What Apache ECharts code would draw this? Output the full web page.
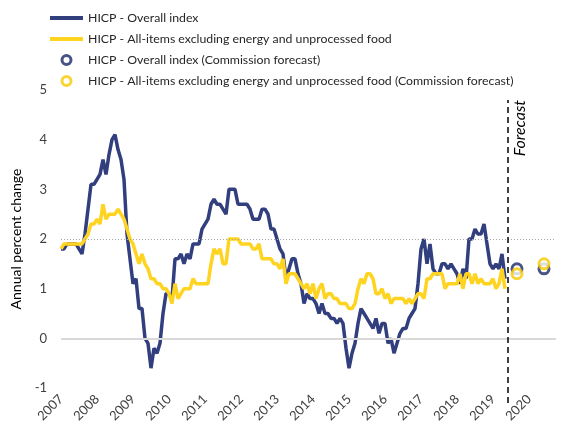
<!DOCTYPE html>
<html>
<head>
<meta charset="utf-8">
<title>HICP</title>
<script src="https://cdn.jsdelivr.net/npm/echarts@6/dist/echarts.min.js"></script>
<style>
  html, body { margin: 0; padding: 0; background: #fff; }
  #chart { width: 561px; height: 428px; }
</style>
</head>
<body>
<div id="chart"></div>
<script>
// monthly categories, Jan 2007 .. Oct 2020
var months = [];
for (var y = 2007; y <= 2020; y++) {
    for (var mo = 1; mo <= 12; mo++) {
        if (y === 2020 && mo > 10) break;
        months.push(y + '-' + (mo < 10 ? '0' + mo : mo));
    }
}

// HICP - Overall index, Jan 2007 .. May 2019
var hicpOverall = [
    1.8, 1.8, 1.9, 1.9, 1.9, 1.9, 1.8, 1.7, 2.1, 2.6, 3.1, 3.1,
    3.2, 3.3, 3.6, 3.3, 3.7, 4.0, 4.1, 3.8, 3.6, 3.2, 2.1, 1.6,
    1.1, 1.2, 0.6, 0.6, 0.0, -0.1, -0.6, -0.2, -0.3, -0.1, 0.5, 0.9,
    0.9, 0.8, 1.6, 1.6, 1.7, 1.5, 1.7, 1.6, 1.9, 1.9, 1.9, 2.2,
    2.3, 2.4, 2.7, 2.8, 2.7, 2.7, 2.6, 2.5, 3.0, 3.0, 3.0, 2.7,
    2.7, 2.7, 2.7, 2.6, 2.4, 2.4, 2.4, 2.6, 2.6, 2.5, 2.2, 2.2,
    2.0, 1.8, 1.7, 1.2, 1.4, 1.6, 1.6, 1.3, 1.1, 0.7, 0.9, 0.8,
    0.8, 0.7, 0.5, 0.7, 0.5, 0.5, 0.4, 0.4, 0.3, 0.4, 0.3, -0.2,
    -0.6, -0.3, -0.1, 0.3, 0.6, 0.5, 0.4, 0.3, 0.2, 0.4, 0.1, 0.3,
    0.3, -0.1, 0.0, -0.3, -0.1, 0.1, 0.2, 0.2, 0.4, 0.5, 0.6, 1.1,
    1.8, 2.0, 1.5, 1.9, 1.4, 1.3, 1.3, 1.5, 1.5, 1.4, 1.5, 1.4,
    1.3, 1.1, 1.4, 1.2, 2.0, 2.0, 2.2, 2.1, 2.1, 2.3, 1.9, 1.5,
    1.4, 1.5, 1.4, 1.7, 1.2
];

// HICP - All-items excluding energy and unprocessed food
var hicpCore = [
    1.8, 1.9, 1.9, 1.9, 1.9, 1.9, 1.9, 1.9, 2.0, 2.1, 2.3, 2.3,
    2.4, 2.3, 2.7, 2.4, 2.5, 2.5, 2.5, 2.6, 2.5, 2.4, 2.2, 2.0,
    1.9, 1.7, 1.5, 1.7, 1.5, 1.4, 1.2, 1.2, 1.1, 1.1, 1.0, 1.0,
    0.9, 0.7, 1.1, 0.8, 0.9, 1.0, 1.0, 1.0, 1.2, 1.1, 1.1, 1.1,
    1.1, 1.1, 1.5, 1.8, 1.7, 1.8, 1.5, 1.5, 2.0, 2.0, 2.0, 2.0,
    1.9, 1.9, 1.9, 1.9, 1.8, 1.8, 1.9, 1.6, 1.6, 1.6, 1.6, 1.5,
    1.5, 1.4, 1.6, 1.1, 1.3, 1.3, 1.3, 1.2, 1.1, 1.0, 1.1, 0.9,
    1.1, 0.8, 1.0, 1.1, 0.8, 0.9, 0.9, 0.8, 0.8, 0.7, 0.7, 0.7,
    0.6, 0.6, 0.7, 1.0, 1.2, 1.1, 1.3, 1.3, 1.2, 0.9, 0.9, 1.0,
    0.8, 0.9, 0.7, 0.8, 0.8, 0.8, 0.8, 0.7, 0.8, 0.7, 0.8, 0.9,
    0.9, 0.8, 1.2, 1.2, 1.3, 1.3, 1.3, 1.3, 1.0, 1.1, 1.1, 1.1,
    1.1, 1.3, 1.0, 1.3, 1.3, 1.1, 1.3, 1.1, 1.2, 1.1, 1.1, 1.1,
    1.2, 1.0, 1.1, 1.4, 1.0
];

// Commission forecast (2019, 2020)
var forecastAt = ['2019-09', '2020-06'];
var forecastOverall = [1.4, 1.4];
var forecastCore = [1.3, 1.5];
var forecastStart = '2019-06';

var navy = '#323f7e';
var navyDark = '#1c2868';
var yellow = '#ffd420';
var yellowRing = '#f7c900';
var font = 'Lato';

var names = [
    'HICP - Overall index',
    'HICP - All-items excluding energy and unprocessed food',
    'HICP - Overall index (Commission forecast)',
    'HICP - All-items excluding energy and unprocessed food (Commission forecast)'
];

var chart = echarts.init(document.getElementById('chart'));

var option = {
    backgroundColor: '#fff',
    textStyle: { fontFamily: font },
    legend: {
        orient: 'vertical',
        left: 43,
        top: 7,
        itemWidth: 33,
        itemHeight: 9,
        itemGap: 9,
        textStyle: { fontFamily: font, fontSize: 12.3, color: '#262626' },
        data: [
            { name: names[0], itemStyle: { opacity: 0 }, lineStyle: { width: 4 } },
            { name: names[1], itemStyle: { opacity: 0 }, lineStyle: { width: 4 } },
            { name: names[2], itemStyle: { color: '#fff', borderColor: navyDark, borderWidth: 3 } },
            { name: names[3], itemStyle: { color: '#fff', borderColor: yellowRing, borderWidth: 3 } }
        ]
    },
    grid: [
        { left: 61, right: 5, top: 90, bottom: 40 },
        { left: 61, right: 5, top: 100, bottom: 25 }
    ],
    xAxis: [
        {
            type: 'category',
            data: months,
            boundaryGap: false,
            axisLine: { show: false },
            axisTick: { show: false },
            axisLabel: {
                rotate: 45,
                margin: 9,
                fontSize: 13,
                color: '#404040',
                interval: function (idx) { return idx % 12 === 0; },
                formatter: function (v) { return v.slice(0, 4); }
            },
            splitLine: { show: false }
        },
        {
            gridIndex: 1,
            type: 'category',
            data: months,
            boundaryGap: false,
            show: false
        }
    ],
    yAxis: [
        {
            type: 'value',
            min: -1,
            max: 5,
            interval: 1,
            name: 'Annual percent change',
            nameLocation: 'middle',
            nameGap: 33,
            nameTextStyle: { fontFamily: font, fontSize: 14, color: '#000' },
            axisLine: { show: false },
            axisTick: { show: false },
            axisLabel: { fontSize: 13, color: '#404040', margin: 14 },
            splitLine: { show: false }
        },
        {
            gridIndex: 1,
            type: 'value',
            min: 0,
            max: 1,
            show: false,
            splitLine: { show: false }
        }
    ],
    series: [
        {
            name: names[0],
            type: 'line',
            data: hicpOverall,
            symbol: 'none',
            lineStyle: { color: navy, width: 3.5 },
            itemStyle: { color: navy },
            z: 3,
            markLine: {
                silent: true,
                symbol: 'none',
                animation: false,
                label: { show: false },
                data: [
                    { yAxis: 0, lineStyle: { color: '#d9d9d9', width: 2, type: 'solid' } },
                    { yAxis: 2, lineStyle: { color: '#a6a6a6', width: 1, type: [1, 2] } }
                ]
            }
        },
        {
            name: names[1],
            type: 'line',
            data: hicpCore,
            symbol: 'none',
            lineStyle: { color: yellow, width: 3.5 },
            itemStyle: { color: yellow },
            z: 4
        },
        {
            name: names[2],
            type: 'scatter',
            data: forecastAt.map(function (m, i) { return [m, forecastOverall[i]]; }),
            symbol: 'circle',
            symbolSize: 10,
            itemStyle: { color: '#fff', borderColor: navyDark, borderWidth: 3 },
            z: 5
        },
        {
            name: names[3],
            type: 'scatter',
            data: forecastAt.map(function (m, i) { return [m, forecastCore[i]]; }),
            symbol: 'circle',
            symbolSize: 10,
            itemStyle: { color: '#fff', borderColor: yellowRing, borderWidth: 3 },
            z: 6
        },
        {
            // forecast divider, drawn on its own full-height grid
            name: 'forecast-divider',
            type: 'line',
            xAxisIndex: 1,
            yAxisIndex: 1,
            data: [],
            symbol: 'none',
            silent: true,
            z: 2,
            markLine: {
                silent: true,
                symbol: 'none',
                animation: false,
                data: [
                    [
                        {
                            coord: [forecastStart, 0],
                            lineStyle: { color: '#000', width: 1.5, type: [6, 4] },
                            label: {
                                show: true,
                                formatter: 'Forecast',
                                position: 'insideEndBottom',
                                fontFamily: font,
                                fontStyle: 'italic',
                                fontSize: 16,
                                color: '#000',
                                distance: [0, 4]
                            }
                        },
                        { coord: [forecastStart, 1] }
                    ]
                ]
            }
        }
    ]
};

chart.setOption(option);
</script>
</body>
</html>
